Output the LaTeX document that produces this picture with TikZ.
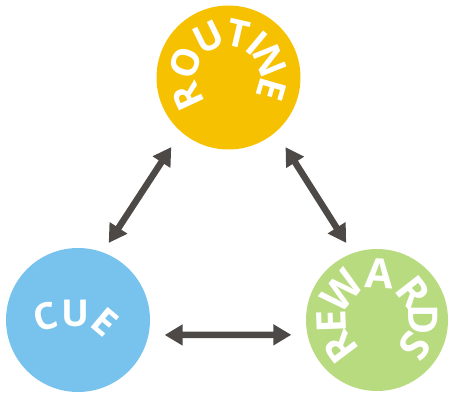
\documentclass[tikz,border=0pt]{standalone}
\usepackage{fontspec}
\setmainfont{Open Sans}
\usepackage{tikz}
\usetikzlibrary{positioning,arrows.meta,calc}

\definecolor{routineyellow}{RGB}{246,193,0}
\definecolor{cueblue}{RGB}{120,195,238}
\definecolor{rewardgreen}{RGB}{184,219,128}
\definecolor{arrowgray}{RGB}{77,73,70}

\begin{document}
\begin{tikzpicture}[x=1pt,y=1pt,
    bubble/.style={circle, inner sep=0pt, minimum size=144pt},
    letter/.style={text=white, font=\bfseries\fontsize{38}{38}\selectfont, inner sep=0pt, anchor=center},
    twoway/.style={{Triangle[length=18pt,width=20pt]}-{Triangle[length=18pt,width=20pt]}, line width=6.5pt, arrowgray}]
        \useasboundingbox (0,0) rectangle (449,396);
        \node [bubble, fill=routineyellow] (routine) at (228.5,318.5) {};
        \node [bubble, fill=cueblue] (cue) at (78,76) {};
        \node [bubble, fill=rewardgreen, minimum size=142pt] (reward) at (377,76) {};
        % letters round the circles
        \foreach \ch/\ang in {R/205, O/161, U/116, T/77, I/50, N/22, E/-16}
            \node [letter, rotate=\ang-90] at ($(routine)+(\ang:45)$) {\ch};
        \foreach \ch/\ang in {R/217, E/182, W/140, A/87, R/38, D/0, S/-35}
            \node [letter, font=\bfseries\fontsize{41}{41}\selectfont, rotate=\ang-90] at ($(reward)+(\ang:46)$) {\ch};
        \foreach \ch/\px/\py/\rot in {C/45/79/15, U/75/83/0, E/105/74/-40}
            \node [letter, font=\bfseries\fontsize{37}{37}\selectfont, rotate=\rot] at (\px,\py) {\ch};
        % arrows
        \draw [twoway, shorten <=11pt, shorten >=18pt] (cue.70) -- (routine.229);
        \draw [twoway, shorten <=18pt, shorten >=12pt] (routine.311) -- (reward.110);
        \draw [twoway, shorten <=16pt, shorten >=16pt] (cue.-12) -- (reward.192);
\end{tikzpicture}
\end{document}
